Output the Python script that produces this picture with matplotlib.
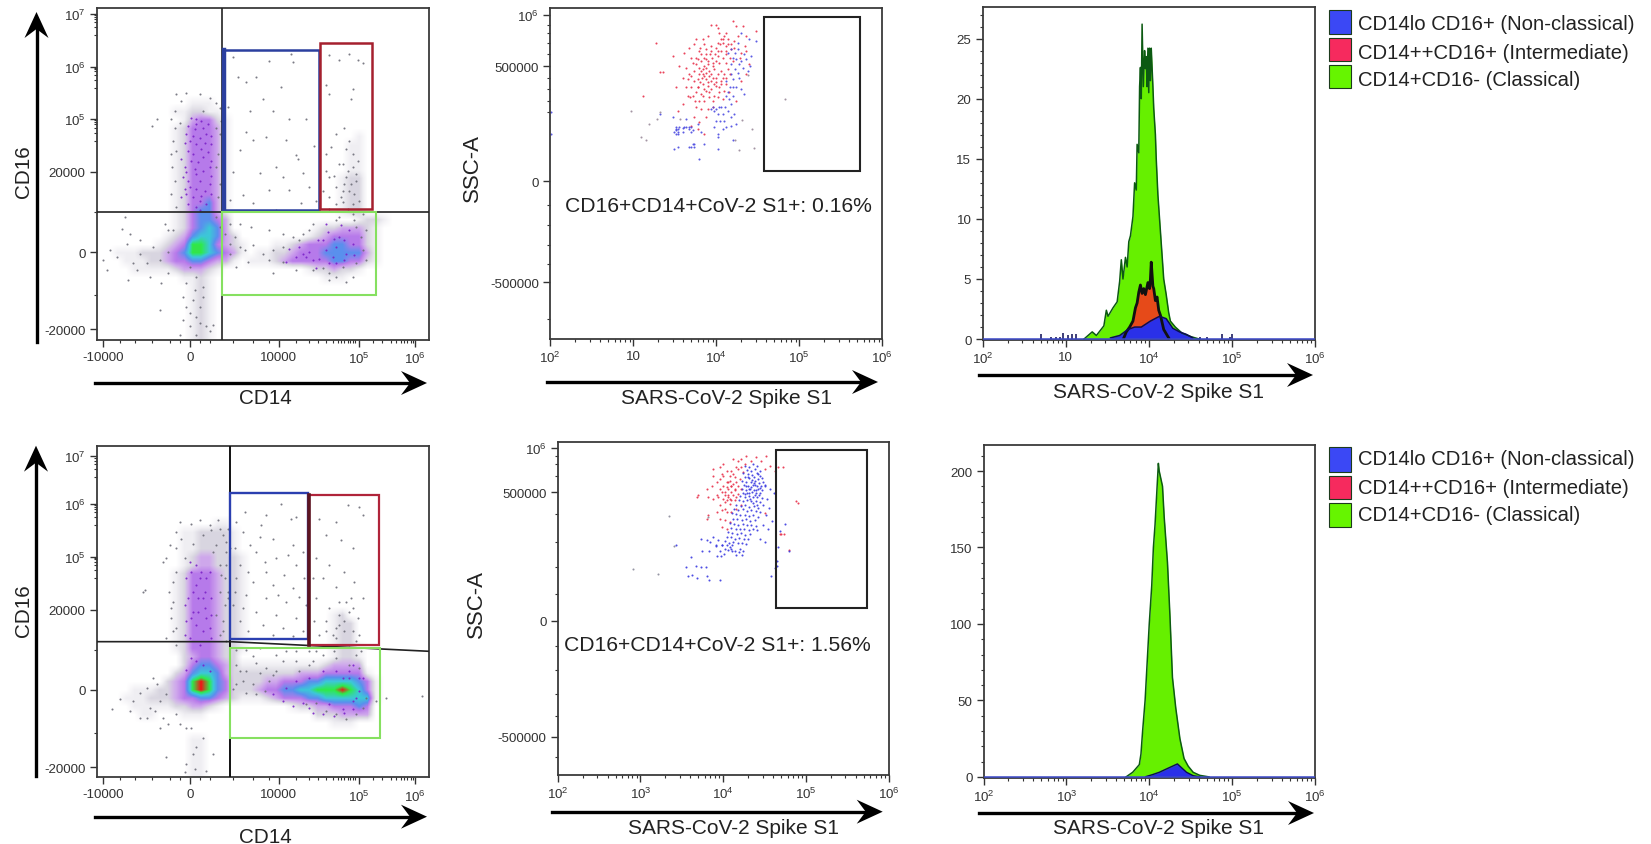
import numpy as np
import matplotlib
matplotlib.use("Agg")
import matplotlib.pyplot as plt
from matplotlib.colors import LinearSegmentedColormap
from matplotlib.patches import Rectangle, Polygon

plt.rcParams['font.family'] = ['Liberation Sans', 'DejaVu Sans']
plt.rcParams['mathtext.default'] = 'regular'

W, H = 1651, 845

# ---------- tick values (flow-cytometry display channels, 0-1000) ----------
cd14_ticks = [20, 281, 548, 788, 959]
cd14_labels = ['-10000', '0', '10000', '$10^5$', '$10^6$']
cd14_minor = [70, 115, 165, 220, 250, 310, 340, 410, 470, 520, 600, 640, 665, 690, 710, 725, 735, 745, 755, 762, 770, 778,
              830, 860, 885, 900, 915, 925, 935, 945, 952]
cd16_a_ticks = [32, 264, 507, 666, 824, 982]
cd16_d_ticks = [30, 264, 506, 665, 824, 968]
cd16_labels = ['-20000', '0', '20000', '$10^5$', '$10^6$', '$10^7$']
cd16_a_minor = [135, 385, 600, 625, 640, 650, 657, 662, 760, 785, 800, 810, 816, 820, 920, 945, 960, 968, 975, 979]
cd16_d_minor = [135, 385, 600, 625, 640, 650, 657, 662, 760, 785, 800, 810, 816, 820, 905, 930, 945, 955, 962]
ssc_b_ticks = [171, 476, 824, 980]
ssc_e_ticks = [114, 463, 849, 983]
ssc_labels = ['-500000', '0', '500000', '$10^6$']
ssc_b_minor = [60, 226, 285, 345, 405, 685, 720, 755, 790, 860, 895, 925, 950]
ssc_e_minor = [52, 177, 243, 315, 388, 545, 625, 700, 785, 900, 935, 960]
s1_channel_ticks = [0, 250, 500, 750, 1000]
s1_labels_top = ['$10^2$', '10', '$10^4$', '$10^5$', '$10^6$']
s1_labels_bottom = ['$10^2$', '$10^3$', '$10^4$', '$10^5$', '$10^6$']
hist_exp_ticks = [2, 3, 4, 5, 6]
hist_c_yticks = [0, 5, 10, 15, 20, 25]
hist_f_yticks = [0, 50, 100, 150, 200]

# ---------- density levels (one character per cell, 40 x 40) ----------
density_a = [""] * 11 + [
    "0000000000011100",
    "0000000001122110",
    "0000000000134421",
    "0000000001244431",
    "00000000012444310000000000000001",
    "00000000012444310000000000000011",
    "00000000012444310000000000000011",
    "00000000012444310000000000000011",
    "00000000012444310000000000000011",
    "00000000012444310000000000000122",
    "00000000012444310000000000000122",
    "00000000012444310000000000000122",
    "00000000012445310000000000000122",
    "00000000012455310000000000000122",
    "00000000012455430000000000000001221",
    "000000000124565300000000001" + "2233321",
    "00000000123566532" + "00000000" + "123444421",
    "0000000" + "12347764321" + "00011" + "23444554421",
    "001112223457765431" + "01122" + "34445555531",
    "000" + "11122344554331" + "011123" + "44444554421",
    "0000" + "11111233321" + "0000000000" + "1223221",
    "0000000000" + "1121" + "0000000000000" + "111",
    "00000000000121", "00000000000121", "00000000000121", "00000000000121",
    "00000000000121", "00000000000121", "00000000000121",
]
density_d = [""] * 9 + [
    "000000000000001100",
    "00000000001122221",
    "00000000001122221",
    "00000000001122221",
    "000000000012332221",
    "000000000012332221",
    "00000000012444322100000000000",
    "00000000012444322100000000000",
    "00000000012444322100000000000",
    "00000000012444322100000000000",
    "00000000012444322100000000000",
    "000000000124443221000000000012",
    "0000000001244432210000000000122",
    "0000000001244432210000000000122",
    "0000000001244432210000000000122",
    "00000000012444322100000000001221",
    "00000000002344322000000000001221",
    "00000000002455432111111111123333",
    "000000000235665322222222333444441",
    "0000000023478754222233444556666541",
    "0000111223478754222344556677787641",
    "0001112223445543211123444556666661",
    "000011111223321000000001223344454",
    "000001100011100000000000002223333",
    "00000000000000000000000000001110",
    "0", "00000000000110", "00000000000110",
    "00000000000110", "00000000000110", "00000000000110",
]

# ---------- individual events (x channel, y channel) ----------
events_a_gray = [
 (410,852),(425,792),(450,777),(480,792),(520,842),(585,862),(590,837),(555,762),(500,727),(395,702),(450,627),(580,667),
 (630,667),(510,612),(570,602),(600,557),(540,522),(470,602),(430,572),(410,507),(490,502),(560,492),(620,502),(640,462),
 (580,452),(520,452),(440,437),(400,422),(470,412),(540,392),(615,412),(605,545),(655,585),(462,690),(530,690),
 (700,860),(730,845),(760,862),(785,845),(800,835),(770,755),(690,770),(700,740),(765,725),(745,640),(720,620),(760,600),
 (705,580),(690,560),(770,560),(730,530),(755,510),(780,500),(700,490),(720,460),(745,470),(760,450),(735,430),(775,440),
 (690,510),(765,470),(770,410),(740,415),(700,430),(785,540),(750,575),(680,450),(715,495),
 (240,740),(255,720),(270,745),(310,740),(340,730),(370,700),(360,715),(320,690),(235,690),(180,665),(165,645),(250,655),
 (375,660),(230,600),(225,560),(365,560),
 (20,240),(30,210),(60,250),(90,290),(110,230),(130,260),(150,230),(170,280),(120,210),(95,180),(160,190),(195,170),
 (215,200),(75,335),(100,320),(130,300),(85,370),(40,270),(190,240),(215,265),
 (280,220),(300,190),(270,170),(320,160),(290,120),(310,100),(260,130),(300,70),(330,40),(280,40),(340,25),(250,15),
 (300,15),(190,90),(280,80),(320,130),(270,100),(310,50),(350,45),(260,60),(295,150),
 (400,290),(430,280),(445,270),(470,285),(500,260),(520,240),(420,220),(455,235),(530,200),(560,235),(600,210),(400,350),
 (430,350),(465,340),(520,330),(560,320),(610,300),
 (650,210),(680,215),(700,200),(720,190),(750,175),(770,190),(740,220),(700,180),(780,230),(800,270),(810,240),(795,310),
 (780,340),(720,360),(640,330),
 (225,665),(235,640),(360,640),(372,620),(240,570),(228,520),(235,480),(360,520),(370,470),(365,430),(225,440),(240,400),
 (360,370),(205,350),(215,330),(370,340),(230,330),(385,320),(400,260),(415,310),(660,420),(740,530),(770,520),(750,490),
 (780,480),(740,450),(720,410),(755,395),(790,420),(700,395),(770,380),(800,380),(730,370),(775,360),(810,330),(650,350),
 (620,320),(590,310),(560,280),(530,270),
]
events_a_purple = [
 (280,600),(320,550),(300,500),(270,440),(340,470),(310,420),(290,560),(265,520),(330,620),(300,650),(275,480),(345,540),
 (620,260),(650,240),(690,270),(720,230),(750,260),(680,300),(770,290),(600,250),(730,310),(710,250),
 (285,670),(300,665),(315,660),(275,645),(295,635),(320,640),(335,650),(270,620),(290,615),(310,610),(345,615),(265,595),
 (300,590),(325,595),(345,590),(275,570),(315,575),(335,565),(255,545),(285,540),(305,535),(340,520),(270,505),(295,515),
 (320,510),(260,490),(310,480),(345,495),(280,460),(300,455),(325,450),(265,455),(290,430),(315,435),(345,440),(275,410),
 (300,400),(330,410),(255,430),(310,390),
 (580,275),(610,280),(640,265),(665,300),(695,325),(720,280),(745,300),(760,330),(745,240),(700,230),(660,215),(630,250),
 (570,235),(670,245),(715,305),(775,255),(735,345),(690,350),
]
events_d_gray = [
 (445,800),(510,790),(555,825),(585,780),(600,785),(495,760),(440,740),(530,720),(460,700),(590,700),(620,680),(415,690),
 (480,680),(540,660),(600,640),(430,640),(510,620),(565,610),(625,600),(420,600),(470,590),(530,580),(590,570),(450,550),
 (510,540),(570,530),(630,520),(410,520),(480,500),(540,490),(600,480),(430,470),(500,460),(560,450),(620,440),(455,440),
 (530,430),(590,425),(415,560),(505,650),(455,620),(575,670),(490,725),(545,550),(610,545),(440,510),
 (670,780),(720,770),(755,820),(790,815),(800,790),(690,730),(735,715),(770,690),(660,660),(700,640),(745,620),(680,600),
 (720,575),(765,540),(660,540),(700,510),(730,530),(690,470),(720,450),(745,470),(770,440),(710,430),(790,430),(655,470),
 (760,500),(670,430),(730,490),(800,540),(775,590),(650,600),
 (255,720),(290,705),(320,730),(345,745),(370,750),(390,710),(400,690),(240,690),(265,660),(210,660),(200,650),(240,620),
 (370,640),(385,600),(350,680),(395,540),(230,530),(225,480),(240,450),(380,470),(370,430),(395,560),(140,560),(145,565),
 (230,440),
 (110,230),(130,255),(150,270),(100,200),(130,180),(150,180),(70,235),(175,200),(190,230),(210,250),(180,280),(160,210),
 (200,180),(215,160),(240,190),(270,150),(45,205),(190,150),(170,300),
 (210,60),(290,70),(350,70),(270,40),(295,25),(330,20),(265,15),(300,90),(285,150),(320,120),(250,160),
 (420,340),(450,320),(480,345),(510,330),(440,290),(470,280),(410,265),(530,310),(560,350),(600,350),(640,340),(680,370),
 (720,360),(780,370),(760,340),(790,330),
 (690,200),(720,190),(750,175),(780,190),(800,210),(810,240),(840,230),(870,240),(980,245),(660,225),(630,220),
 (250,770),(285,765),(310,775),(340,760),(365,775),(380,730),(395,750),(420,770),(240,740),(220,700),(360,700),(390,680),
 (375,610),(390,640),(370,560),(385,520),(380,440),(360,490),(230,590),(218,560),(225,510),(238,400),(210,420),(390,410),
 (420,385),(450,385),(470,365),(430,320),(490,315),(520,290),(540,320),(420,280),(450,255),(480,250),(505,260),(700,400),
 (720,420),(760,400),(780,410),(795,380),(745,440),(715,380),(690,440),(730,460),(770,510),(750,530),(785,480),(660,380),
 (640,380),(600,380),(570,380),(540,370),(490,390),(610,320),(650,350),
]
events_d_purple = [
 (300,580),(320,540),(290,500),(340,620),(280,650),(310,600),(330,480),(275,540),
 (570,270),(640,210),(700,220),(770,230),(760,320),(740,300),(790,300),(530,250),
 (285,620),(300,640),(315,620),(330,600),(270,600),(290,560),(305,540),(325,560),(345,540),(265,520),(285,480),(305,500),
 (325,510),(345,490),(270,470),(300,460),(320,440),(340,450),(280,420),(310,400),(345,420),(265,430),(300,350),(285,360),
 (320,340),(340,320),(270,325),
 (600,290),(640,300),(680,320),(720,320),(760,300),(780,240),(740,205),(560,230),(590,215),(620,225),(650,195),(680,190),
 (715,185),(745,195),(770,205),(790,260),(800,300),(770,340),
]
events_b_red = [
 (319,895),(339,806),(329,806),(279,735),(369,855),(389,825),(419,880),(404,865),(434,890),(449,870),(424,850),(439,830),
 (409,820),(419,800),(434,780),(399,790),(379,760),(444,760),(454,840),(464,890),(474,915),(484,950),(499,950),(509,925),
 (519,905),(534,890),(549,960),(559,945),(579,945),(469,860),(484,870),(499,880),(514,870),(529,860),(544,875),(554,900),
 (504,855),(519,850),(489,835),(474,840),(459,815),(449,800),(464,795),(479,810),(494,815),(509,835),(529,835),(549,840),
 (434,810),(444,785),(459,770),(474,775),(489,790),(504,800),(519,790),(534,815),(424,760),(439,745),(454,740),(469,750),
 (484,755),(499,765),(514,770),(529,770),(449,720),(464,720),(479,730),(494,735),(509,745),(524,750),(539,745),(439,700),
 (454,695),(474,695),(489,700),(434,670),(449,655),(469,670),(424,645),(444,635),(464,620),(399,710),(414,735),(384,690),
 (429,735),(559,720),(574,780),(589,800),(599,830),(619,930),(570,850),(589,870),(469,820),(499,790),(484,780),(514,810),
 (524,800),(459,800),(479,795),(494,770),(509,760),
 (455,810),(462,825),(470,805),(448,818),(476,830),(458,790),(468,785),(452,775),(446,760),(462,755),(475,765),(484,800),
 (490,825),(498,840),(505,870),(512,890),(520,895),(528,885),(536,905),(524,915),(515,905),(505,895),(530,870),(540,850),
 (545,890),(552,880),(495,860),(488,850),(480,860),(470,845),(462,850),(455,860),(445,845),(440,850),(430,835),(425,795),
 (415,785),(408,760),(420,730),(435,720),(460,735),(478,745),(490,720),(505,730),(520,725),(500,775),(515,780),(530,790),
 (540,800),(485,885),(470,875),(452,880),(460,905),(440,905),(505,940),(530,925),(565,915),(590,915),(585,885),(575,865),
]
events_b_blue = [
 (544,875),(564,895),(574,925),(599,905),(619,900),(534,865),(549,850),(569,830),(584,860),(604,855),(594,810),(544,800),
 (529,780),(549,785),(569,790),(534,745),(549,760),(574,755),(584,740),(514,700),(534,690),(554,680),(524,660),(494,640),
 (504,620),(519,635),(544,645),(559,650),(489,700),(539,725),(494,690),(499,695),(509,700),(484,695),(329,680),(369,670),
 (379,620),(409,665),(444,650),(374,625),(424,625),(379,640),(384,635),(424,640),(404,640),(434,590),(379,630),(384,625),
 (399,638),(419,635),(389,640),(374,575),(384,580),(409,640),(429,630),(454,625),(464,590),(504,610),(504,575),(549,600),
 (384,620),(399,625),(419,640),(449,545),(429,590),(419,580),(424,580),(434,580),(379,635),(2,685),(2,620),
 (555,865),(565,875),(575,840),(560,845),(545,830),(555,815),(565,805),(580,820),(590,845),(600,825),(540,760),(530,735),
 (550,735),(560,760),(545,710),(525,700),(505,680),(510,660),(530,640),(545,670),(520,680),(500,660),
]
events_b_gray = [
 (274,610),(289,602),(297,650),(244,688),(329,685),(321,665),(390,665),(706,724),(608,635),(614,578),(567,572),(557,600),
 (577,662),(594,798),
]
events_e_red = [
 (425,840),(470,920),(470,900),(490,925),(500,935),(530,950),(545,945),(555,950),(565,935),(545,920),(530,905),(510,915),
 (495,905),(520,885),(535,895),(550,890),(560,910),(515,860),(525,870),(535,860),(545,870),(490,860),(505,850),(480,880),
 (465,870),(500,830),(515,835),(530,840),(545,845),(490,810),(505,820),(520,815),(535,825),(480,790),(495,795),(510,790),
 (525,790),(540,800),(555,810),(490,770),(505,765),(520,760),(450,860),(455,835),(600,955),(615,945),(630,960),(640,930),
 (625,920),(655,915),(665,925),(680,925),(570,960),(585,945),(510,880),(520,900),(500,870),(490,890),(480,840),(470,830),
 (455,780),(450,770),(421,835),(725,816),(720,822),(672,725),(683,725),(700,675),(675,725),(625,788),(495,745),(510,740),
 (525,870),(540,880),(555,860),(505,800),
 (515,842),(525,850),(535,855),(520,830),(510,865),(530,875),(540,835),(505,840),(495,850),(515,880),(500,900),(525,915),
 (540,925),(555,925),(485,835),(510,825),(525,825),
]
events_e_blue = [
 (566,930),(578,925),(590,935),(602,928),(571,918),(584,914),(597,920),(610,915),(560,908),(575,905),(588,902),(601,908),
 (612,900),(565,896),(579,892),(592,896),(605,890),(618,893),(558,885),(570,882),(583,880),(596,884),(608,878),(620,880),
 (563,872),(576,870),(589,872),(601,868),(613,870),(625,872),(556,860),(568,858),(581,860),(594,858),(606,860),(618,856),
 (560,848),(573,846),(586,850),(598,846),(611,848),(552,838),(565,836),(578,838),(590,834),(603,836),(616,832),(548,826),
 (560,824),(573,826),(585,822),(598,824),(610,820),(585,865),(592,878),(600,855),(579,848),(570,868),(608,842),(596,872),
 (588,888),(577,860),(605,905),(595,842),(582,830),(567,845),(612,862),(574,895),(590,818),(603,812),
 (540,812),(553,808),(566,812),(579,806),(592,808),(605,802),(533,800),(546,796),(559,798),(572,794),(585,796),(598,792),
 (611,790),(526,786),(539,784),(552,780),(565,782),(578,778),(591,780),(604,776),(530,770),(543,768),(556,766),(569,768),
 (582,764),(595,766),(520,756),(533,754),(546,752),(559,755),(572,750),(585,752),(598,748),(525,742),(538,740),(551,738),
 (564,740),(577,736),(590,738),(603,735),
 (515,730),(528,728),(541,725),(554,727),(567,722),(580,724),(510,716),(523,714),(536,710),(549,712),(562,708),(575,710),
 (505,702),(518,698),(531,700),(544,696),(557,698),(570,694),(512,690),(520,685),(528,692),(506,680),(515,676),(524,680),
 (535,672),(550,680),(496,690),(490,672),(502,665),(540,662),(548,670),(560,672),(485,705),(478,690),(470,715),(460,700),
 (492,657),(482,657),(457,672),(437,674),(432,710),(452,707),(477,687),(495,692),(527,672),(557,662),
 (402,654),(387,624),(417,627),(432,624),(447,624),(395,597),(407,600),(422,592),(452,597),(457,587),(489,585),(357,690),
 (637,802),(647,762),(652,847),(662,642),(662,627),(672,732),(687,754),(667,684),(699,674),(645,597),(657,622),
 (625,870),(640,860),(632,830),(628,780),(636,740),(620,750),(625,700),(612,710),(620,810),
]
events_e_gray = [(227,620),(302,605),(337,777),(352,687),(455,774)]

# ---------- histograms: x is log10(S1 intensity) ----------
c_green_x = [3.22, 3.32, 3.37, 3.46, 3.49, 3.51, 3.57, 3.62, 3.65, 3.67, 3.69, 3.72, 3.74, 3.76, 3.78, 3.81, 3.83, 3.85, 3.86, 3.88,
             3.89, 3.90, 3.91, 3.92, 3.935, 3.95, 3.96, 3.97, 3.98, 3.99, 4.00, 4.01, 4.02, 4.03, 4.05, 4.06, 4.08, 4.09, 4.11, 4.12,
             4.14, 4.16, 4.18, 4.21, 4.24, 4.26, 4.32, 4.40, 4.51, 4.61]
c_green_y = [0, 0.6, 0.3, 1.1, 2.4, 1.9, 2.6, 3.1, 4.8, 6.6, 5.0, 6.8, 6.0, 8.1, 8.6, 10.2, 13.0, 12.4, 16.2, 15.5,
             21.0, 22.6, 20.0, 26.2, 21.0, 24.0, 22.5, 23.5, 21.0, 24.2, 20.5, 24.2, 21.5, 24.2, 21.0, 19.2, 17.0, 15.0, 12.0, 11.0,
             9.0, 7.0, 5.0, 3.7, 2.2, 1.5, 1.0, 0.5, 0.2, 0]
c_red_x = [3.70, 3.73, 3.77, 3.81, 3.84, 3.86, 3.88, 3.90, 3.92, 3.94, 3.96, 3.99, 4.01, 4.02, 4.03, 4.05, 4.06, 4.08, 4.10, 4.12, 4.14, 4.18, 4.24]
c_red_y = [0.1, 0.6, 1.0, 1.5, 2.6, 3.0, 3.9, 4.5, 3.8, 4.2, 3.7, 4.7, 4.2, 5.0, 6.4, 4.4, 4.2, 3.2, 3.5, 2.4, 2.0, 0.8, 0.1]
c_blue_x = [3.54, 3.65, 3.75, 3.83, 3.91, 4.02, 4.13, 4.21, 4.29, 4.37, 4.45, 4.53]
c_blue_y = [0.1, 0.3, 0.8, 1.0, 1.0, 1.5, 1.9, 1.7, 0.9, 0.6, 0.4, 0.1]
c_spike_x = [2.70, 2.82, 2.88, 2.93, 2.97, 3.03, 3.08, 3.12, 4.62, 4.70, 4.88, 4.98, 5.00]
c_spike_y = [0.4, 0.2, 0.2, 0.2, 0.5, 0.3, 0.4, 0.4, 0.2, 0.2, 0.4, 0.2, 0.4]
f_green_x = [3.72, 3.80, 3.88, 3.90, 3.92, 3.95, 3.97, 4.00, 4.03, 4.05, 4.07, 4.09, 4.11, 4.12, 4.16, 4.18, 4.22, 4.25, 4.28, 4.32,
             4.37, 4.42, 4.47, 4.53, 4.61, 4.72]
f_green_y = [0, 3, 8, 15, 30, 50, 70, 100, 125, 150, 165, 185, 205, 200, 190, 170, 140, 105, 65, 45, 25, 12, 7, 3, 1, 0]
f_blue_x = [3.96, 4.04, 4.12, 4.20, 4.28, 4.34, 4.39, 4.45, 4.53, 4.61]
f_blue_y = [0.2, 1.5, 3, 5, 7, 8.5, 6, 3, 0.8, 0]

legend_labels = ['CD14lo CD16+ (Non-classical)', 'CD14++CD16+ (Intermediate)', 'CD14+CD16- (Classical)']
legend_colors = ['#3b48f5', '#f62a5e', '#66f500']

# ---------- helpers ----------
density_cmap = LinearSegmentedColormap.from_list('flow', [
    (0 / 8, '#ffffff'), (1 / 8, '#f0eff3'), (2 / 8, '#d9d6e0'), (3 / 8, '#cfa8ec'), (4 / 8, '#b87aea'),
    (5 / 8, '#5a8fee'), (6 / 8, '#3cc8d8'), (7 / 8, '#2eea4a'), (8 / 8, '#f01616')])


def make_axes(x0, y0, x1, y1):
    ax = fig.add_axes([x0 / W, 1 - y1 / H, (x1 - x0) / W, (y1 - y0) / H])
    for s in ax.spines.values():
        s.set_linewidth(1.3)
        s.set_color('#3a3a3a')
    ax.tick_params(which='major', length=5, width=1.0, color='#333333', labelcolor='#333333', pad=3)
    ax.tick_params(which='minor', length=2.5, width=0.8, color='#333333')
    return ax


def set_ticks(ax, xt, xl, xm, yt, yl, ym, size=9.6):
    ax.set_xticks(xt, xl, fontsize=size)
    ax.set_yticks(yt, yl, fontsize=size)
    ax.set_xticks(xm, minor=True)
    ax.set_yticks(ym, minor=True)


def arrow(x0, y0, x1, y1):
    d = np.array([x1 - x0, y1 - y0], float)
    u = d / np.hypot(*d)
    n = np.array([-u[1], u[0]])
    tip = np.array([x1, y1], float)
    back = tip - 26 * u
    notch = tip - 17 * u
    pts = [tip, back + 12 * n, notch, back - 12 * n]
    fig.add_artist(Polygon([(p[0] / W, 1 - p[1] / H) for p in pts], closed=True, fc='black', ec='none',
                           transform=fig.transFigure))
    s = np.array([x0, y0], float)
    fig.add_artist(plt.Line2D([s[0] / W, notch[0] / W], [1 - s[1] / H, 1 - notch[1] / H], color='black', lw=2.4,
                              transform=fig.transFigure))


def label(x, y, s, size, rot=0, color='#222222'):
    fig.text(x / W, 1 - y / H, s, fontsize=size, rotation=rot, ha='center', va='center', color=color)


def show_density(ax, rows):
    grid = np.array([[int(c) for c in r.ljust(40, '0')[:40]] for r in (rows + [""] * 40)[:40]], float)
    ax.imshow(grid, extent=(0, 1000, 0, 1000), origin='upper', aspect='auto', cmap=density_cmap, vmin=0, vmax=8,
              interpolation='bilinear', interpolation_stage='data', zorder=1)


def show_events(ax, pts, color, size=2.2, alpha=0.9):
    a = np.array(pts)
    ax.scatter(a[:, 0], a[:, 1], s=size, c=color, linewidths=0, alpha=alpha, zorder=2)


def gate(ax, x0, y0, x1, y1, color, lw):
    ax.add_patch(Rectangle((x0, y0), x1 - x0, y1 - y0, fc='none', ec=color, lw=lw, zorder=4))


def hist(ax, x, y, fill, edge, lw=1.0):
    ax.fill_between(x, 0, y, color=fill, lw=0, zorder=2)
    ax.plot(x, y, color=edge, lw=lw, zorder=3)


def legend(ys, ty):
    for (y0, y1), t, lab, col in zip(ys, ty, legend_labels, legend_colors):
        fig.add_artist(Rectangle((1329 / W, 1 - y1 / H), 22 / W, (y1 - y0) / H, fc=col, ec='#1c3a1c',
                                 lw=0.8, transform=fig.transFigure))
        fig.text(1358 / W, 1 - t / H, lab, fontsize=14.6, ha='left', va='center', color='#222222')


fig = plt.figure(figsize=(W / 100, H / 100), dpi=100, facecolor='white')

# ---------- panel A ----------
a = make_axes(96.7, 9.3, 429, 340.7)
a.set_xlim(0, 1000); a.set_ylim(0, 1000)
show_density(a, density_a)
show_events(a, events_a_gray, '#6d6d78')
show_events(a, events_a_purple, '#7a20c8')
set_ticks(a, cd14_ticks, cd14_labels, cd14_minor, cd16_a_ticks, cd16_labels, cd16_a_minor)
a.axvline(376, color='#222222', lw=1.2, zorder=3)
a.axhline(386, color='#222222', lw=1.2, zorder=3)
gate(a, 383, 390, 669, 875, '#2b3f9f', 1.8)
a.plot([383, 383], [390, 875], color='#2b3f9f', lw=3.2, zorder=4)
gate(a, 672, 394, 827, 894, '#a5202e', 1.8)
gate(a, 376, 135, 840, 384, '#86e060', 1.5)

# ---------- panel B ----------
b = make_axes(550.3, 9, 882.3, 340)
b.set_xlim(0, 1000); b.set_ylim(0, 1000)
show_events(b, events_b_red, '#e8304a')
show_events(b, events_b_blue, '#4a4ae0')
show_events(b, events_b_gray, '#9a8a9a')
s1_minor = [(k + np.log10(m)) * 250 for k in range(4) for m in range(2, 10)]
set_ticks(b, s1_channel_ticks, s1_labels_top, s1_minor, ssc_b_ticks, ssc_labels, ssc_b_minor)
gate(b, 644, 508, 933, 974, '#222222', 1.5)

# ---------- panel C ----------
c = make_axes(982.5, 8.3, 1315, 340.7)
c.set_xlim(2, 6); c.set_ylim(-0.05, 27.6)
hist_minor = [k + np.log10(m) for k in range(2, 6) for m in range(2, 10)]
set_ticks(c, hist_exp_ticks, s1_labels_top, hist_minor, hist_c_yticks, [str(v) for v in hist_c_yticks],
          [v for v in range(1, 28) if v % 5])
hist(c, c_green_x, c_green_y, '#66f000', '#0c5a12', 1.1)
hist(c, c_red_x, c_red_y, '#e64a19', '#111111', 2.0)
hist(c, c_blue_x, c_blue_y, '#2a30e8', '#0a0a55', 1.1)
c.vlines(c_spike_x, 0, c_spike_y, color='#0a0a55', lw=1.1, zorder=3)
c.axhline(0, color='#3b48c8', lw=1.1, zorder=3)

# ---------- panel D ----------
d = make_axes(96.7, 446.7, 429, 778.3)
d.set_xlim(0, 1000); d.set_ylim(0, 1000)
show_density(d, density_d)
show_events(d, events_d_gray, '#6d6d78')
show_events(d, events_d_purple, '#7a20c8')
set_ticks(d, cd14_ticks, cd14_labels, cd14_minor, cd16_d_ticks, cd16_labels, cd16_d_minor)
d.axvline(402, color='#111111', lw=1.4, zorder=3)
d.plot([0, 402, 1000], [409, 409, 380], color='#222222', lw=1.2, zorder=3)
gate(d, 402, 416, 637, 857, '#2b3fb0', 1.7)
gate(d, 639, 400, 850, 852, '#b0243a', 1.6)
d.plot([639, 639], [400, 852], color='#5c1420', lw=2.6, zorder=4)
gate(d, 402, 118, 853, 389, '#86e060', 1.5)

# ---------- panel E ----------
e = make_axes(557.7, 443.3, 888.7, 775.7)
e.set_xlim(0, 1000); e.set_ylim(0, 1000)
show_events(e, events_e_red, '#e8304a')
show_events(e, events_e_blue, '#3a3ae0')
show_events(e, events_e_gray, '#8a8a9a')
set_ticks(e, s1_channel_ticks, s1_labels_bottom, s1_minor, ssc_e_ticks, ssc_labels, ssc_e_minor)
gate(e, 660, 501, 934, 978, '#222222', 1.5)

# ---------- panel F ----------
f = make_axes(983.5, 446, 1315, 778.5)
f.set_xlim(2, 6); f.set_ylim(-0.4, 217)
set_ticks(f, hist_exp_ticks, s1_labels_bottom, hist_minor, hist_f_yticks, [str(v) for v in hist_f_yticks],
          [v for v in range(10, 215, 10) if v % 50])
hist(f, f_green_x, f_green_y, '#66f000', '#0c5a12', 1.1)
hist(f, f_blue_x, f_blue_y, '#2a30e8', '#0a0a55', 1.0)
f.axhline(0, color='#3b48c8', lw=1.1, zorder=3)

# ---------- arrows ----------
arrow(95, 384, 427, 384); arrow(36.5, 343, 36.5, 13)
arrow(546.7, 383, 878, 383)
arrow(979, 376, 1313, 376)
arrow(95, 817.7, 427, 817.7); arrow(36, 776.7, 36, 446.7)
arrow(551.7, 812.7, 882.7, 812.7)
arrow(979, 814, 1314, 814)

# ---------- axis names and notes ----------
label(265.7, 399, 'CD14', 14.9)
label(23.5, 172, 'CD16', 14.9, 90)
label(726.7, 399, 'SARS-CoV-2 Spike S1', 15)
label(472, 168, 'SSC-A', 16, 90)
label(718, 206, 'CD16+CD14+CoV-2 S1+: 0.16%', 15.2)
label(1158, 393, 'SARS-CoV-2 Spike S1', 15)
label(265.7, 838, 'CD14', 14.9)
label(23.5, 611, 'CD16', 14.9, 90)
label(733, 829, 'SARS-CoV-2 Spike S1', 15)
label(476, 604, 'SSC-A', 16, 90)
label(717, 646, 'CD16+CD14+CoV-2 S1+: 1.56%', 15.2)
label(1158, 829, 'SARS-CoV-2 Spike S1', 15)

legend([(10.7, 35), (39, 62.3), (66, 89.3)], [25, 53.2, 81])
legend([(448.3, 473.3), (476.7, 500), (504, 527.7)], [460, 488.6, 516])

fig.savefig('out.png', dpi=100, facecolor='white')
